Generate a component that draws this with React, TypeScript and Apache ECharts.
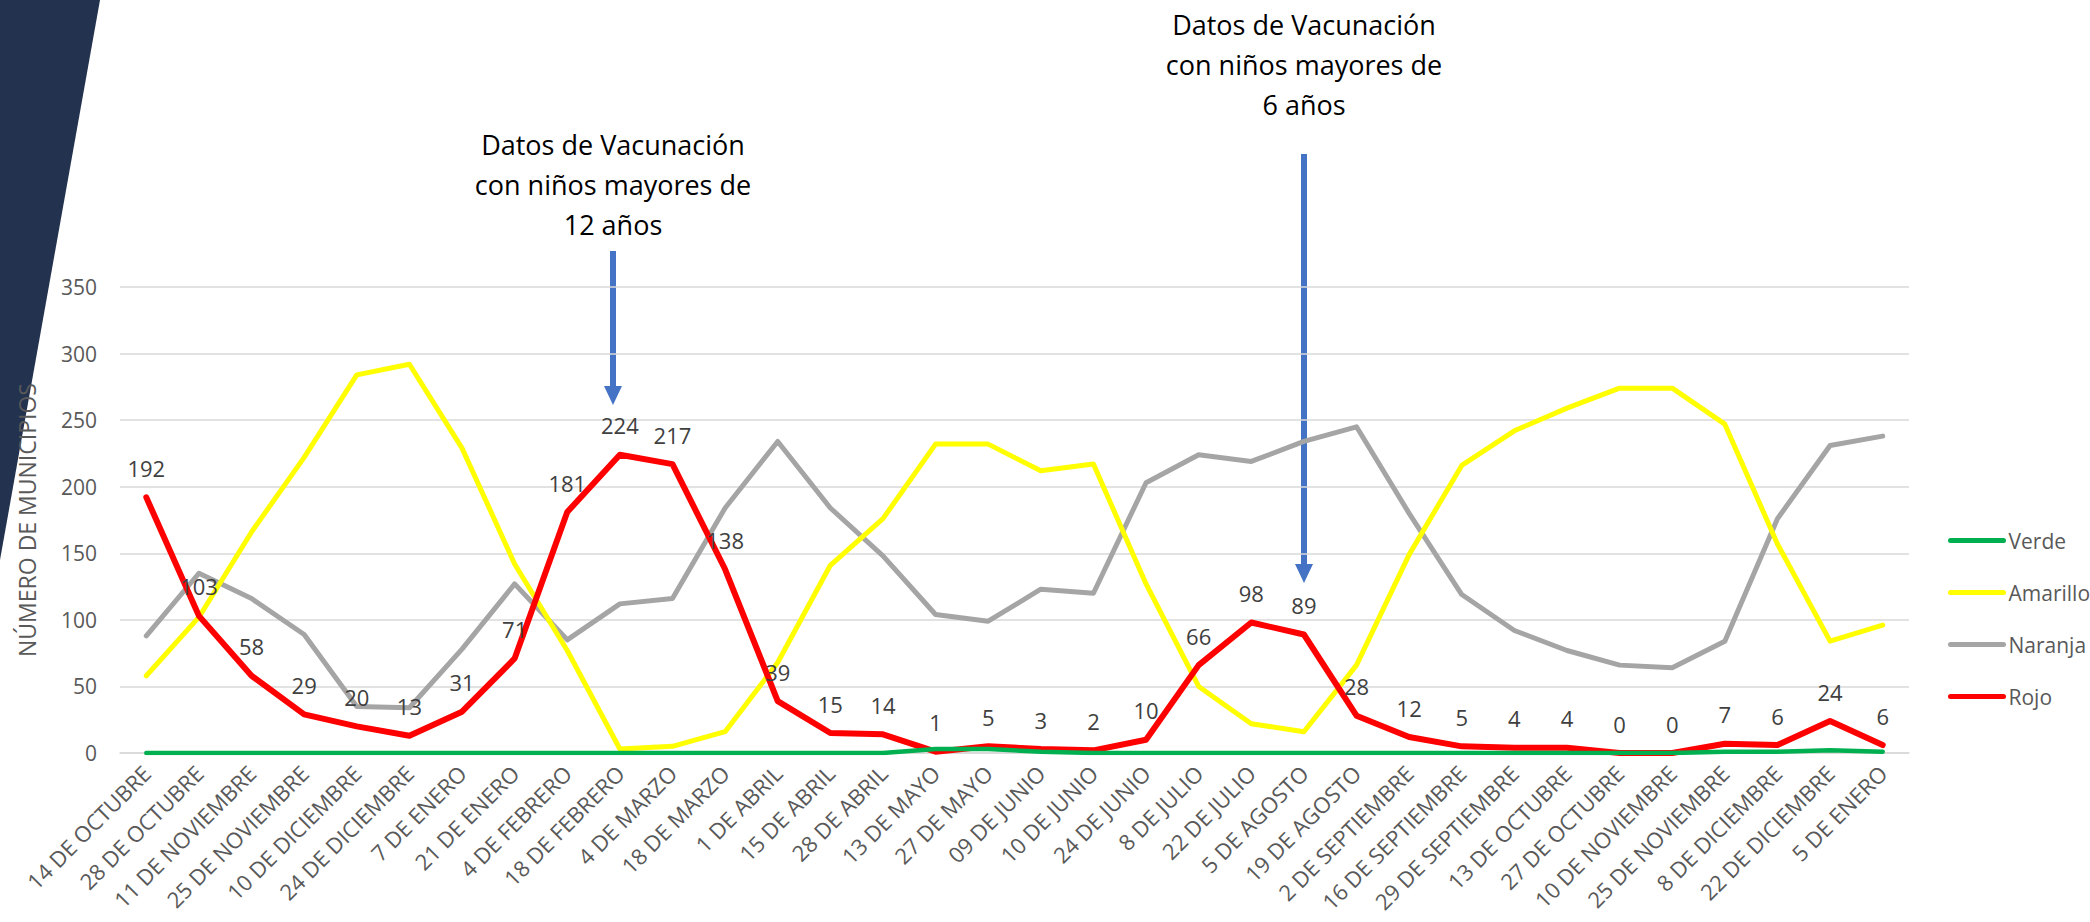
import React, { useEffect, useRef } from 'react';
import * as echarts from 'echarts';

const categories = [
  '14 DE OCTUBRE', '28 DE OCTUBRE', '11 DE NOVIEMBRE', '25 DE NOVIEMBRE', '10 DE DICIEMBRE',
  '24 DE DICIEMBRE', '7 DE ENERO', '21 DE ENERO', '4 DE FEBRERO', '18 DE FEBRERO',
  '4 DE MARZO', '18 DE MARZO', '1 DE ABRIL', '15 DE ABRIL', '28 DE ABRIL',
  '13 DE MAYO', '27 DE MAYO', '09 DE JUNIO', '10 DE JUNIO', '24 DE JUNIO',
  '8 DE JULIO', '22 DE JULIO', '5 DE AGOSTO', '19 DE AGOSTO', '2 DE SEPTIEMBRE',
  '16 DE SEPTIEMBRE', '29 DE SEPTIEMBRE', '13 DE OCTUBRE', '27 DE OCTUBRE', '10 DE NOVIEMBRE',
  '25 DE NOVIEMBRE', '8 DE DICIEMBRE', '22 DE DICIEMBRE', '5 DE ENERO',
];

const verde = [0, 0, 0, 0, 0, 0, 0, 0, 0, 0, 0, 0, 0, 0, 0, 3, 3, 1, 0, 0, 0, 0, 0, 0, 0, 0, 0, 0, 0, 0, 1, 1, 2, 1];
const amarillo = [58, 102, 166, 222, 284, 292, 229, 142, 77, 3, 5, 16, 68, 141, 176, 232, 232, 212, 217, 127, 50, 22, 16, 66, 149, 216, 242, 259, 274, 274, 247, 157, 84, 96];
const naranja = [88, 135, 116, 89, 35, 34, 78, 127, 85, 112, 116, 184, 234, 184, 148, 104, 99, 123, 120, 203, 224, 219, 234, 245, 180, 119, 92, 77, 66, 64, 84, 176, 231, 238];
const rojo = [192, 103, 58, 29, 20, 13, 31, 71, 181, 224, 217, 138, 39, 15, 14, 1, 5, 3, 2, 10, 66, 98, 89, 28, 12, 5, 4, 4, 0, 0, 7, 6, 24, 6];

const yTicks = { min: 0, max: 350, interval: 50 };
const yAxisName = 'NÚMERO DE MUNICIPIOS';
const note1 = 'Datos de Vacunación\ncon niños mayores de\n12 años';
const note2 = 'Datos de Vacunación\ncon niños mayores de\n6 años';

const FONT = '"Open Sans", "Noto Sans", sans-serif';

export default function App() {
  const ref = useRef<HTMLDivElement>(null);

  useEffect(() => {
    const chart = echarts.init(ref.current!, null, { renderer: 'svg' });
    const mk = (name: string, data: number[], color: string, width: number, z: number, label?: boolean) => ({
      name,
      type: 'line',
      data,
      symbol: 'circle',
      symbolSize: 1,
      showSymbol: true,
      z,
      itemStyle: { color },
      lineStyle: { color, width, cap: 'round', join: 'round' },
      emphasis: { disabled: true },
      label: label
        ? { show: true, position: 'top', distance: 18, fontSize: 22, color: '#404040', fontFamily: FONT }
        : { show: false },
    });

    const note = (text: string, x: number, y: number) => ({
      type: 'text',
      x,
      y,
      silent: true,
      style: {
        text,
        align: 'center',
        verticalAlign: 'top',
        fontSize: 27,
        lineHeight: 40,
        fontFamily: FONT,
        fill: '#000000',
      },
    });

    chart.setOption({
      animation: false,
      backgroundColor: '#ffffff',
      textStyle: { fontFamily: FONT },
      grid: { left: 120, right: 181, top: 287, bottom: 169, containLabel: false },
      legend: {
        orient: 'vertical',
        left: 1948,
        top: 530,
        padding: 0,
        itemWidth: 53,
        itemHeight: 14,
        itemGap: 31,
        data: ['Verde', 'Amarillo', 'Naranja', 'Rojo'],
        itemStyle: { opacity: 0 },
        lineStyle: { width: 5, cap: 'round' },
        textStyle: { fontSize: 21, color: '#595959', fontFamily: FONT },
        selectedMode: false,
      },
      xAxis: {
        type: 'category',
        data: categories,
        boundaryGap: true,
        axisLine: { lineStyle: { color: '#D9D9D9', width: 1.5 } },
        axisTick: { show: false },
        axisLabel: { rotate: 45, interval: 0, fontSize: 22, color: '#595959', margin: 16, fontFamily: FONT },
      },
      yAxis: {
        type: 'value',
        min: yTicks.min,
        max: yTicks.max,
        interval: yTicks.interval,
        name: yAxisName,
        nameLocation: 'middle',
        nameGap: 82,
        nameTextStyle: { fontSize: 23, color: '#595959', fontFamily: FONT },
        axisLine: { show: false },
        axisTick: { show: false },
        axisLabel: { fontSize: 21, color: '#595959', margin: 23, fontFamily: FONT },
        splitLine: { lineStyle: { color: '#D9D9D9', width: 1.5 } },
      },
      series: [
        mk('Verde', verde, '#00B050', 4.5, 5),
        mk('Amarillo', amarillo, '#FFFF00', 5, 3),
        mk('Naranja', naranja, '#A5A5A5', 5, 2),
        mk('Rojo', rojo, '#FF0000', 6, 4, true),
      ],
      graphic: [
        {
          type: 'polygon',
          z: -10,
          silent: true,
          shape: { points: [[0, 0], [100, 0], [0, 560]] },
          style: { fill: '#22324F' },
        },
        note(note1, 613, 124),
        note(note2, 1304, 4),
        {
          type: 'line',
          silent: true,
          shape: { x1: 613, y1: 251, x2: 613, y2: 390 },
          style: { stroke: '#4472C4', lineWidth: 6 },
        },
        {
          type: 'polygon',
          silent: true,
          shape: { points: [[604, 386], [622, 386], [613, 405]] },
          style: { fill: '#4472C4' },
        },
        {
          type: 'line',
          silent: true,
          shape: { x1: 1304, y1: 154, x2: 1304, y2: 568 },
          style: { stroke: '#4472C4', lineWidth: 6 },
        },
        {
          type: 'polygon',
          silent: true,
          shape: { points: [[1295, 564], [1313, 564], [1304, 583]] },
          style: { fill: '#4472C4' },
        },
      ],
    });
    return () => chart.dispose();
  }, []);

  return (
    <div
      ref={ref}
      style={{ position: 'fixed', left: 0, top: 0, width: '2090px', height: '922px', background: '#fff' }}
    />
  );
}
